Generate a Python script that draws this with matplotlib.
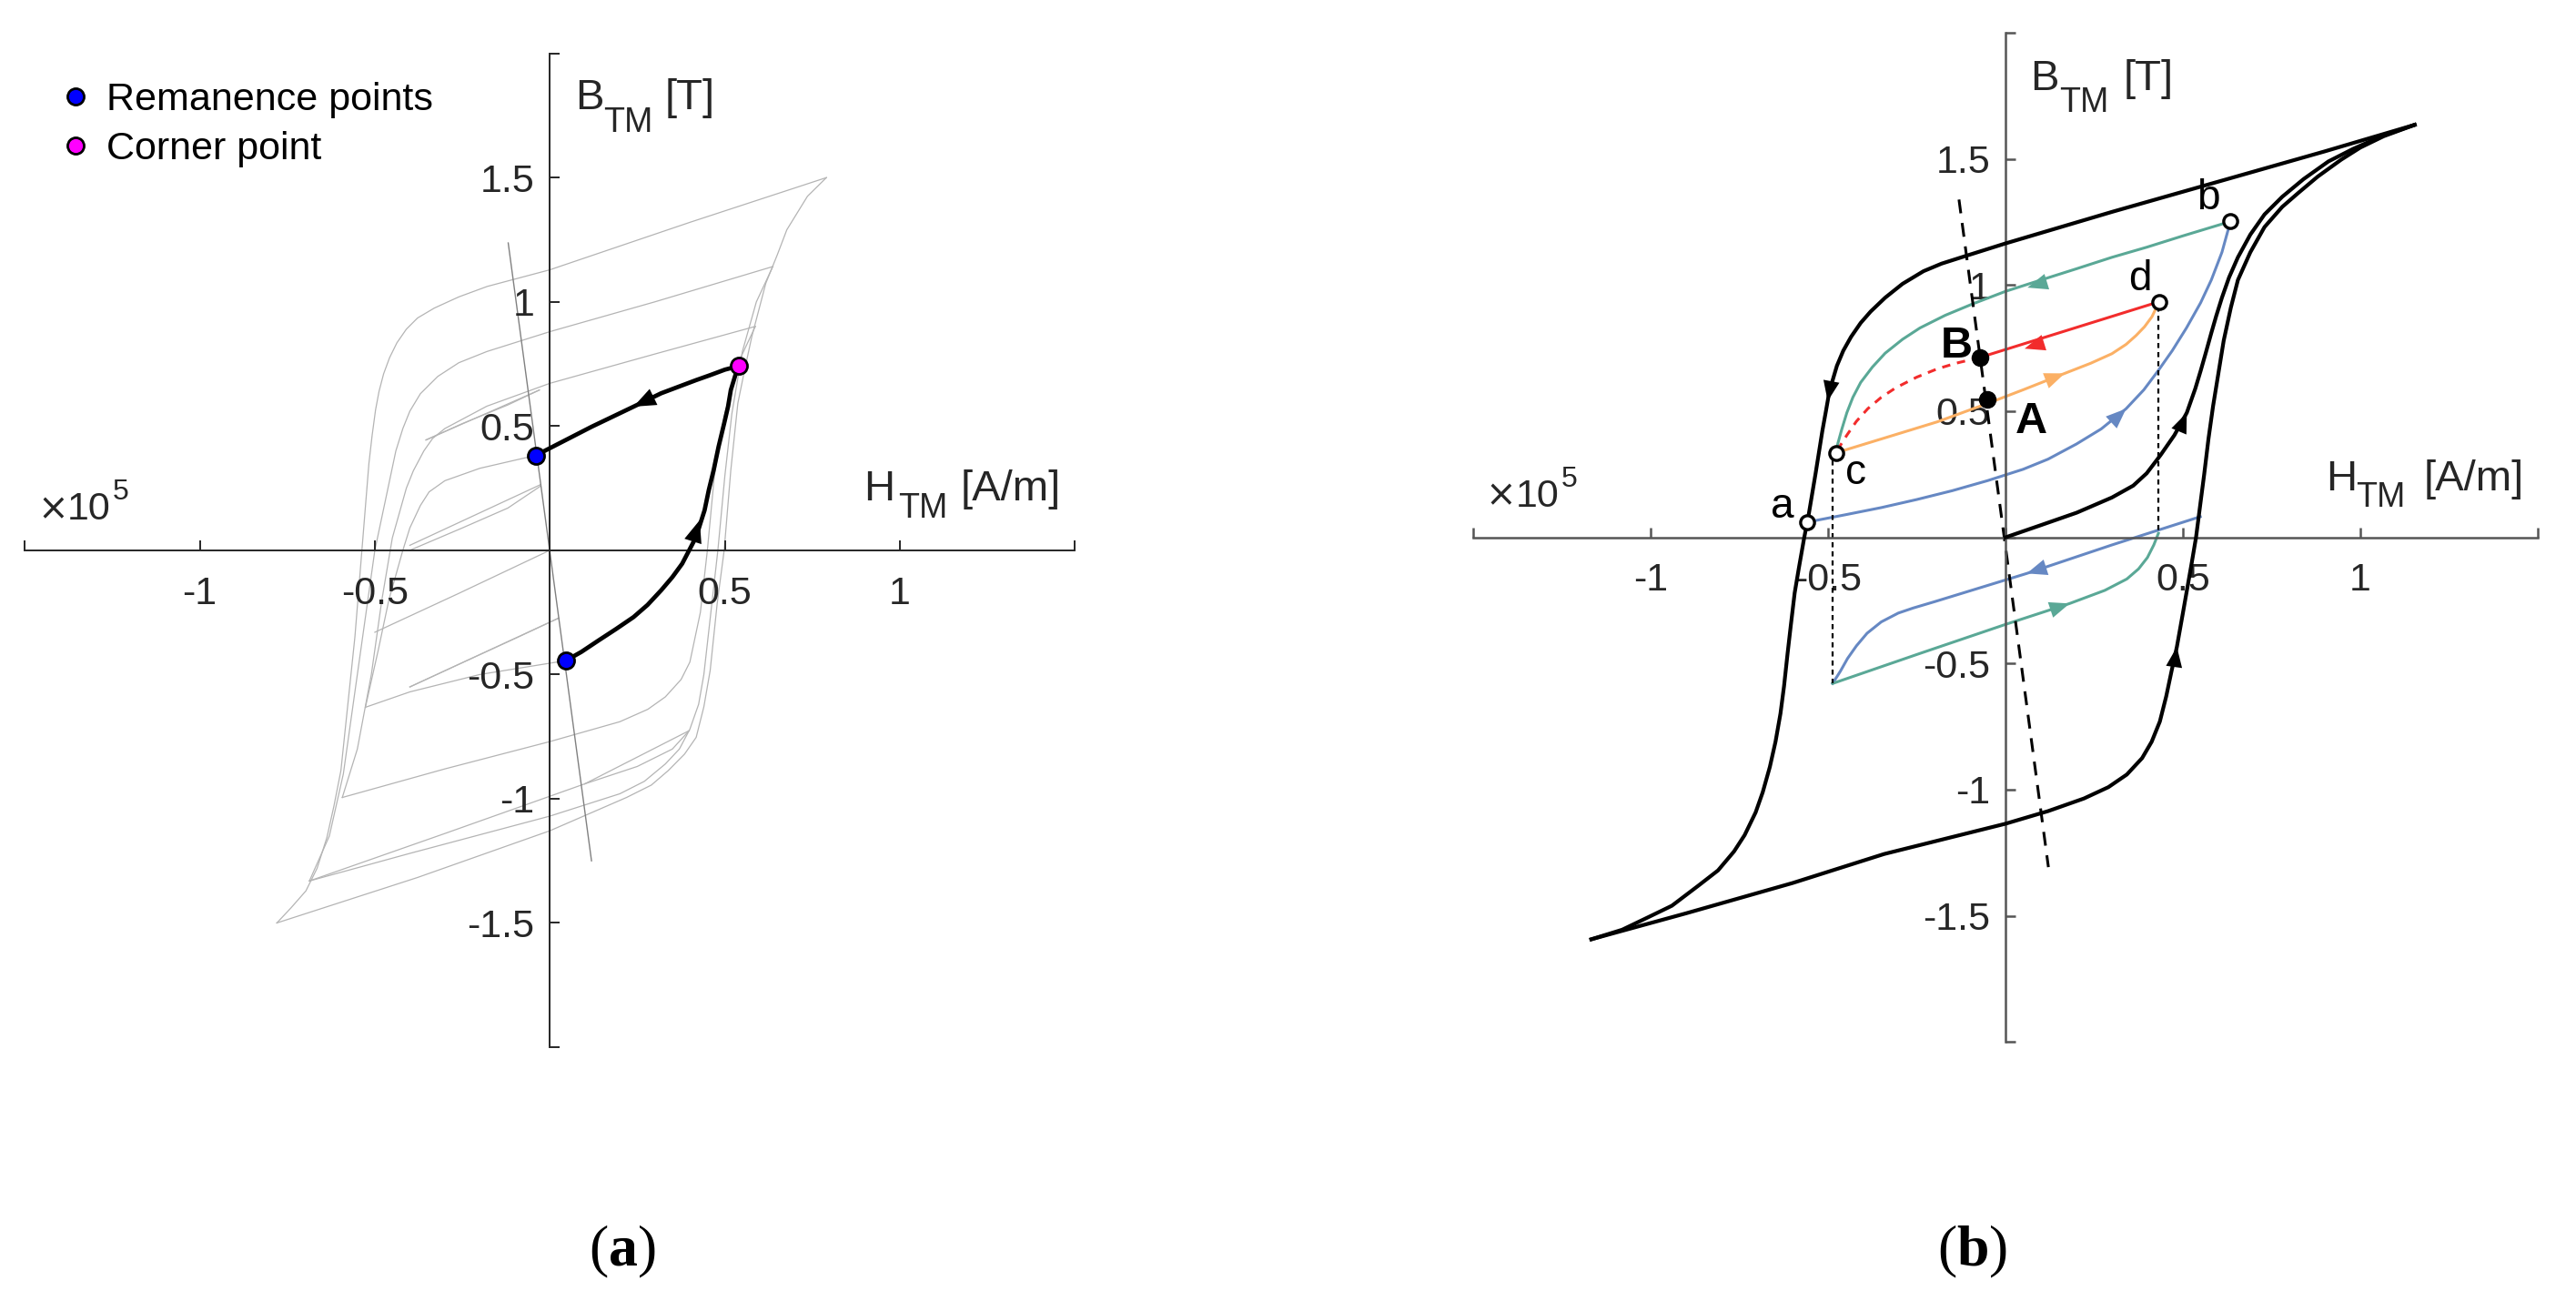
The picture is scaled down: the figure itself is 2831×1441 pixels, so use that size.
import matplotlib
matplotlib.use('Agg')
import matplotlib.pyplot as plt

plt.rcParams.update({
    'font.family': 'Liberation Sans',
    'mathtext.fontset': 'custom',
    'mathtext.rm': 'Liberation Sans',
    'mathtext.bf': 'Liberation Serif:bold',
})

# ---------------------------------------------------------------------------
# shared axis ticks
# ---------------------------------------------------------------------------
X_TICKS = [-1.5, -1, -0.5, 0, 0.5, 1, 1.5]
X_TICK_LABELS = ['', '-1', '-0.5', '', '0.5', '1', '']
Y_TICKS = [-2, -1.5, -1, -0.5, 0, 0.5, 1, 1.5, 2]
Y_TICK_LABELS = ['', '-1.5', '-1', '-0.5', '', '0.5', '1', '1.5', '']

# ---------------------------------------------------------------------------
# panel (a): gray family of loops (H in 1e5 A/m, B in T)
# ---------------------------------------------------------------------------
a_out_up_h = [0.790, 0.40, 0.00, -0.179, -0.26, -0.33, -0.378, -0.41, -0.437, -0.458, -0.475,
              -0.488, -0.498, -0.508, -0.517, -0.537, -0.557, -0.577, -0.597, -0.617, -0.637,
              -0.665, -0.697, -0.740, -0.780]
a_out_up_b = [1.500, 1.32, 1.129, 1.062, 1.02, 0.975, 0.935, 0.89, 0.835, 0.775, 0.71,
              0.64, 0.565, 0.46, 0.349, 0.0, -0.349, -0.618, -0.887, -1.03, -1.156,
              -1.28, -1.371, -1.44, -1.500]
a_out_lo_h = [-0.780, -0.378, 0.0, 0.219, 0.290, 0.338, 0.385, 0.418, 0.440, 0.458, 0.478,
              0.498, 0.517, 0.537, 0.557, 0.577, 0.617, 0.650, 0.677, 0.736, 0.790]
a_out_lo_b = [-1.500, -1.317, -1.129, -0.995, -0.945, -0.887, -0.82, -0.753, -0.63, -0.484, -0.215,
              0.0, 0.323, 0.591, 0.73, 0.860, 1.075, 1.19, 1.290, 1.425, 1.500]

a_l2_up_h = [0.637, 0.30, 0.00, -0.18, -0.26, -0.32, -0.37, -0.40, -0.42, -0.44, -0.47, -0.50,
             -0.53, -0.56, -0.59, -0.63, -0.687]
a_l2_up_b = [1.142, 1.00, 0.88, 0.80, 0.755, 0.70, 0.63, 0.56, 0.49, 0.40, 0.20, 0.00,
             -0.30, -0.60, -0.90, -1.15, -1.331]
a_l2_lo_h = [-0.687, -0.40, 0.00, 0.20, 0.27, 0.33, 0.37, 0.40, 0.425, 0.44, 0.46, 0.48,
             0.50, 0.52, 0.55, 0.59, 0.637]
a_l2_lo_b = [-1.331, -1.22, -1.07, -0.98, -0.93, -0.86, -0.80, -0.72, -0.62, -0.50, -0.25, 0.00,
             0.30, 0.55, 0.80, 1.00, 1.142]

a_l3_up_h = [0.587, 0.30, 0.00, -0.18, -0.30, -0.335, -0.36, -0.39, -0.41, -0.45, -0.48, -0.51,
             -0.55, -0.593]
a_l3_up_b = [0.901, 0.79, 0.672, 0.58, 0.49, 0.45, 0.40, 0.32, 0.25, 0.05, -0.20, -0.50,
             -0.80, -0.995]
a_l3_lo_h = [-0.593, -0.30, 0.00, 0.20, 0.28, 0.33, 0.375, 0.40, 0.43, 0.45, 0.47, 0.50,
             0.54, 0.587]
a_l3_lo_b = [-0.995, -0.88, -0.77, -0.69, -0.64, -0.59, -0.52, -0.45, -0.25, 0.00, 0.30, 0.55,
             0.76, 0.901]

a_l4_up_h = [-0.040, -0.20, -0.30, -0.345, -0.37, -0.40, -0.42, -0.46, -0.49, -0.527]
a_l4_up_b = [0.382, 0.33, 0.28, 0.235, 0.18, 0.09, 0.00, -0.20, -0.40, -0.632]
a_l4_lo_h = [-0.527, -0.40, -0.20, 0.046]
a_l4_lo_b = [-0.632, -0.57, -0.50, -0.444]

a_m1a_h = [-0.354, -0.03]
a_m1a_b = [0.444, 0.645]
a_m1b_h = [-0.354, -0.25, -0.12, -0.03]
a_m1b_b = [0.444, 0.51, 0.585, 0.645]
a_m2a_h = [-0.40, -0.027]
a_m2a_b = [0.02, 0.264]
a_m2b_h = [-0.40, -0.25, -0.12, -0.027]
a_m2b_b = [0.00, 0.09, 0.17, 0.258]
a_m3a_h = [0.10, 0.398]
a_m3a_b = [-0.94, -0.726]
a_m3b_h = [0.10, 0.25, 0.35, 0.398]
a_m3b_b = [-0.94, -0.87, -0.80, -0.726]
a_m4a_h = [-0.40, 0.025]
a_m4a_b = [-0.55, -0.273]
a_m4b_h = [-0.40, -0.20, -0.087, 0.025]
a_m4b_b = [-0.55, -0.42, -0.347, -0.273]
a_m5_h = [-0.50, -0.261, 0.0]
a_m5_b = [-0.33, -0.174, 0.0]
a_m6_h = [-0.687, -0.30, 0.10]
a_m6_b = [-1.331, -1.14, -0.94]

# straight line through the remanence points
a_rem_line_h = [-0.119, 0.119]
a_rem_line_b = [1.237, -1.250]

# black path: remanence (lower) -> corner -> remanence (upper)
a_black_up_h = [0.046, 0.090, 0.139, 0.189, 0.239, 0.279, 0.318, 0.350, 0.378, 0.398, 0.418,
                0.430, 0.442, 0.454, 0.468, 0.482, 0.498, 0.509, 0.517, 0.530, 0.541]
a_black_up_b = [-0.444, -0.409, -0.363, -0.317, -0.269, -0.220, -0.161, -0.108, -0.054, 0.0, 0.054,
                0.108, 0.161, 0.242, 0.323, 0.417, 0.511, 0.578, 0.645, 0.705, 0.742]
a_black_dn_h = [0.541, 0.500, 0.458, 0.418, 0.318, 0.239, 0.119, -0.040]
a_black_dn_b = [0.742, 0.727, 0.705, 0.685, 0.632, 0.578, 0.497, 0.382]

a_rem_h = [-0.040, 0.046]
a_rem_b = [0.382, -0.444]
a_corner_h = [0.541]
a_corner_b = [0.742]

# arrows (x, y, dx, dy)
a_arrows = [(0.239, 0.578, -0.015, -0.0103), (0.428, 0.121, 0.0045, 0.02)]

# ---------------------------------------------------------------------------
# panel (b)
# ---------------------------------------------------------------------------
b_major_dn_h = [1.153, 0.90, 0.60, 0.30, 0.0, -0.113, -0.18, -0.231, -0.29, -0.339, -0.38,
                -0.408, -0.435, -0.457, -0.475, -0.496, -0.506, -0.516, -0.535, -0.555, -0.567,
                -0.582, -0.594, -0.605, -0.614, -0.624, -0.634, -0.648, -0.664, -0.684, -0.704,
                -0.735, -0.765, -0.81, -0.865, -0.94, -1.006, -1.08, -1.167]
b_major_dn_b = [1.635, 1.53, 1.41, 1.29, 1.165, 1.115, 1.085, 1.055, 1.005, 0.950, 0.895,
                0.850, 0.795, 0.740, 0.680, 0.580, 0.50, 0.422, 0.254, 0.086, 0.0,
                -0.12, -0.22, -0.35, -0.46, -0.59, -0.698, -0.81, -0.91, -1.01, -1.09,
                -1.18, -1.245, -1.32, -1.38, -1.46, -1.505, -1.555, -1.593]
b_major_up_h = [-1.167, -0.9, -0.6, -0.342, 0.0, 0.12, 0.221, 0.29, 0.342, 0.385, 0.412,
                0.435, 0.453, 0.468, 0.483, 0.50, 0.513, 0.525, 0.537, 0.548, 0.560, 0.572,
                0.585, 0.600, 0.615, 0.635, 0.655, 0.69, 0.73, 0.78, 0.825, 0.88, 0.946,
                1.00, 1.066, 1.153]
b_major_up_b = [-1.593, -1.49, -1.37, -1.255, -1.135, -1.085, -1.035, -0.99, -0.94, -0.875, -0.81,
                -0.73, -0.63, -0.53, -0.434, -0.30, -0.196, -0.10, 0.0, 0.12, 0.25, 0.39,
                0.52, 0.65, 0.78, 0.91, 1.02, 1.13, 1.23, 1.31, 1.365, 1.43, 1.497,
                1.545, 1.590, 1.635]
b_initial_h = [0.0, 0.103, 0.201, 0.300, 0.36, 0.398, 0.437, 0.476, 0.511, 0.535, 0.550,
               0.565, 0.58, 0.594, 0.61, 0.63, 0.655, 0.69, 0.73, 0.78, 0.84, 0.91,
               0.98, 1.06, 1.153]
b_initial_b = [0.0, 0.05, 0.098, 0.158, 0.205, 0.254, 0.326, 0.405, 0.494, 0.590, 0.66,
               0.734, 0.81, 0.878, 0.95, 1.03, 1.11, 1.20, 1.28, 1.35, 1.42, 1.49,
               1.54, 1.59, 1.635]

b_blue_ab_h = [-0.560, -0.45, -0.35, -0.25, -0.15, -0.05, 0.05, 0.12, 0.20, 0.27, 0.34,
               0.39, 0.43, 0.47, 0.51, 0.55, 0.58, 0.61, 0.634]
b_blue_ab_b = [0.060, 0.09, 0.118, 0.150, 0.185, 0.225, 0.27, 0.31, 0.37, 0.43, 0.51,
               0.585, 0.66, 0.74, 0.83, 0.93, 1.02, 1.13, 1.252]
b_green_bc_h = [0.634, 0.50, 0.398, 0.30, 0.201, 0.10, 0.0, -0.093, -0.17, -0.241, -0.29,
                -0.339, -0.375, -0.408, -0.43, -0.447, -0.462, -0.472, -0.478]
b_green_bc_b = [1.252, 1.195, 1.150, 1.110, 1.065, 1.020, 0.975, 0.925, 0.88, 0.830, 0.785,
                0.730, 0.675, 0.614, 0.555, 0.494, 0.425, 0.374, 0.335]
b_orange_cd_h = [-0.478, -0.35, -0.192, -0.052, 0.05, 0.167, 0.24, 0.300, 0.34, 0.368, 0.392,
                 0.413, 0.433]
b_orange_cd_b = [0.335, 0.39, 0.458, 0.530, 0.585, 0.650, 0.69, 0.728, 0.765, 0.800, 0.835,
                 0.875, 0.934]
b_red_dB_h = [0.433, -0.072]
b_red_dB_b = [0.934, 0.713]
b_red_dash_h = [-0.072, -0.14, -0.192, -0.25, -0.309, -0.35, -0.388, -0.42, -0.447, -0.465, -0.478]
b_red_dash_b = [0.713, 0.69, 0.668, 0.635, 0.593, 0.555, 0.510, 0.46, 0.405, 0.365, 0.335]

b_blue_lo_h = [0.549, 0.30, 0.06, -0.20, -0.26, -0.302, -0.35, -0.39, -0.42, -0.445, -0.465, -0.487]
b_blue_lo_b = [0.082, -0.03, -0.143, -0.255, -0.28, -0.30, -0.335, -0.38, -0.43, -0.48, -0.53, -0.579]
b_green_lo_h = [-0.487, -0.241, 0.0, 0.181, 0.28, 0.342, 0.375, 0.40, 0.418, 0.431]
b_green_lo_b = [-0.579, -0.460, -0.345, -0.262, -0.21, -0.165, -0.125, -0.08, -0.03, 0.016]

b_vline_c_h = [-0.487, -0.487]
b_vline_c_b = [0.307, -0.579]
b_vline_d_h = [0.431, 0.431]
b_vline_d_b = [0.915, 0.016]
b_rem_line_h = [-0.131, 0.121]
b_rem_line_b = [1.339, -1.307]

b_open_names = ['a', 'b', 'c', 'd']
b_open_h = [-0.560, 0.634, -0.478, 0.433]
b_open_b = [0.060, 1.252, 0.335, 0.934]
b_open_label_h = [-0.629, 0.570, -0.422, 0.378]
b_open_label_b = [0.122, 1.345, 0.254, 1.022]
b_solid_names = ['B', 'A']
b_solid_h = [-0.072, -0.052]
b_solid_b = [0.713, 0.548]
b_solid_label_h = [-0.138, 0.072]
b_solid_label_b = [0.758, 0.458]

BLUE = '#6688c3'
GREEN = '#5aa896'
ORANGE = '#fbb065'
RED = '#f22c2c'

b_arrows = [
    (-0.501, 0.540, -0.004, -0.03, 'black'),
    (0.511, 0.494, 0.006, 0.02, 'black'),
    (0.483, -0.434, 0.003, 0.03, 'black'),
    (0.34, 0.51, 0.01, 0.013, BLUE),
    (0.062, 0.990, -0.02, -0.0086, GREEN),
    (0.054, 0.748, -0.02, -0.00875, RED),
    (0.167, 0.650, 0.02, 0.011, ORANGE),
    (0.06, -0.143, -0.02, -0.009, BLUE),
    (0.181, -0.262, 0.02, 0.0094, GREEN),
]


def origin_axes(ax, color, lw):
    ax.set_xlim(-1.5, 1.5)
    ax.set_ylim(-2, 2)
    ax.patch.set_visible(False)
    for s in ['top', 'right']:
        ax.spines[s].set_visible(False)
    for s in ['left', 'bottom']:
        ax.spines[s].set_position('zero')
        ax.spines[s].set_color(color)
        ax.spines[s].set_linewidth(lw)
    ax.set_xticks(X_TICKS)
    ax.set_xticklabels(X_TICK_LABELS)
    ax.set_yticks(Y_TICKS)
    ax.set_yticklabels(Y_TICK_LABELS)
    ax.tick_params(axis='x', direction='in', length=8, width=lw, color=color,
                   pad=20, labelsize=31, labelcolor='#262626')
    ax.tick_params(axis='y', direction='in', length=8, width=lw, color=color,
                   pad=12, labelsize=31, labelcolor='#262626')


def axis_label(ax, main, sub, rest, xm, ym, xs, ys, xr):
    kw = dict(transform=ax.transAxes, va='baseline', ha='left', color='#262626')
    ax.text(xm, ym, main, fontsize=34, **kw)
    ax.text(xs, ys, sub, fontsize=27, **kw)
    ax.text(xr, ym, rest, fontsize=34, **kw)


def exponent_label(ax, xt, xd, y, xs, ys):
    kw = dict(transform=ax.transAxes, va='baseline', ha='left', color='#262626')
    ax.text(xt, y, '\u00d7', fontsize=29, family='DejaVu Sans', **kw)
    ax.text(xd, y, '10', fontsize=31, **kw)
    ax.text(xs, ys, '5', fontsize=23, **kw)


def arrow_head(ax, x, y, dx, dy, color, size=18):
    ax.annotate('', xy=(x, y), xytext=(x - dx, y - dy),
                arrowprops=dict(arrowstyle='-|>,head_length=0.8,head_width=0.32',
                                color=color, lw=0, shrinkA=0, shrinkB=0,
                                mutation_scale=size), zorder=5)


fig = plt.figure(figsize=(28.31, 14.41), dpi=100)
ax1 = fig.add_axes([0.00964, 0.20125, 0.40763, 0.75802])
ax2 = fig.add_axes([0.57188, 0.20520, 0.41328, 0.76981])

# ----------------------------- panel (a) -----------------------------------
origin_axes(ax1, '#262626', 1.4)
gray = '#b4b4b4'
gray_curves = [
    (a_out_up_h, a_out_up_b), (a_out_lo_h, a_out_lo_b),
    (a_l2_up_h, a_l2_up_b), (a_l2_lo_h, a_l2_lo_b),
    (a_l3_up_h, a_l3_up_b), (a_l3_lo_h, a_l3_lo_b),
    (a_l4_up_h, a_l4_up_b), (a_l4_lo_h, a_l4_lo_b),
    (a_m1a_h, a_m1a_b), (a_m1b_h, a_m1b_b), (a_m2a_h, a_m2a_b), (a_m2b_h, a_m2b_b),
    (a_m3a_h, a_m3a_b), (a_m3b_h, a_m3b_b), (a_m4a_h, a_m4a_b), (a_m4b_h, a_m4b_b),
    (a_m5_h, a_m5_b), (a_m6_h, a_m6_b),
]
for h, b in gray_curves:
    ax1.plot(h, b, color=gray, lw=0.9, zorder=1)
ax1.plot(a_rem_line_h, a_rem_line_b, color='#808080', lw=1.0, zorder=1)
ax1.plot(a_black_up_h, a_black_up_b, color='black', lw=3.4, zorder=3)
ax1.plot(a_black_dn_h, a_black_dn_b, color='black', lw=3.4, zorder=3)
for x, y, dx, dy in a_arrows:
    arrow_head(ax1, x, y, dx, dy, 'black', size=22)
ax1.plot(a_rem_h, a_rem_b, 'o', ms=13, mfc='#0000ff', mec='black', mew=2, zorder=6,
         label='Remanence points')
ax1.plot(a_corner_h, a_corner_b, 'o', ms=13, mfc='#ff00ff', mec='black', mew=2, zorder=6,
         label='Corner point')
ax1.legend(loc='upper left', bbox_to_anchor=(0.011, 0.999), frameon=False, fontsize=31,
           handlelength=0.6, handletextpad=0.5, labelspacing=0.33, borderpad=0.2,
           numpoints=1)

exponent_label(ax1, 0.0122, 0.0405, 0.531, 0.0838, 0.5513)
axis_label(ax1, 'B', 'TM', '[T]', 0.524, 0.9439, 0.5509, 0.9210, 0.6098)
axis_label(ax1, 'H', 'TM', '[A/m]', 0.7987, 0.5502, 0.8316, 0.5328, 0.8914)

# ----------------------------- panel (b) -----------------------------------
origin_axes(ax2, '#555555', 1.8)
ax2.plot(b_major_dn_h, b_major_dn_b, color='black', lw=3.0, zorder=3)
ax2.plot(b_major_up_h, b_major_up_b, color='black', lw=3.0, zorder=3)
ax2.plot(b_initial_h, b_initial_b, color='black', lw=3.0, zorder=3)

ax2.plot(b_blue_ab_h, b_blue_ab_b, color=BLUE, lw=2.2, zorder=2)
ax2.plot(b_green_bc_h, b_green_bc_b, color=GREEN, lw=2.2, zorder=2)
ax2.plot(b_orange_cd_h, b_orange_cd_b, color=ORANGE, lw=2.2, zorder=2)
ax2.plot(b_red_dB_h, b_red_dB_b, color=RED, lw=2.2, zorder=2)
ax2.plot(b_red_dash_h, b_red_dash_b, color=RED, lw=2.2, ls=(0, (3, 2.5)), zorder=2)
ax2.plot(b_blue_lo_h, b_blue_lo_b, color=BLUE, lw=2.2, zorder=2)
ax2.plot(b_green_lo_h, b_green_lo_b, color=GREEN, lw=2.2, zorder=2)

ax2.plot(b_vline_c_h, b_vline_c_b, color='black', lw=1.6, ls=(0, (2.5, 2)), zorder=2)
ax2.plot(b_vline_d_h, b_vline_d_b, color='black', lw=1.6, ls=(0, (2.5, 2)), zorder=2)
ax2.plot(b_rem_line_h, b_rem_line_b, color='black', lw=2.2, ls=(0, (5, 3.5)), zorder=2)

for x, y, dx, dy, c in b_arrows:
    arrow_head(ax2, x, y, dx, dy, c, size=20)

ax2.plot(b_open_h, b_open_b, 'o', ms=11, mfc='white', mec='black', mew=2.4, zorder=6)
ax2.plot(b_solid_h, b_solid_b, 'o', ms=13, mfc='black', mec='black', zorder=6)
for name, x, y in zip(b_open_names, b_open_label_h, b_open_label_b):
    ax2.text(x, y, name, fontsize=33, ha='center', va='center', zorder=7)
for name, x, y in zip(b_solid_names, b_solid_label_h, b_solid_label_b):
    ax2.text(x, y, name, fontsize=35, fontweight='bold', ha='center', va='center', zorder=7)

exponent_label(ax2, 0.0117, 0.0402, 0.5306, 0.0829, 0.5502)
axis_label(ax2, 'B', 'TM', '[T]', 0.5231, 0.9432, 0.5504, 0.9216, 0.6111)
axis_label(ax2, 'H', 'TM', '[A/m]', 0.8009, 0.5467, 0.8291, 0.5303, 0.8932)

# ----------------------------- captions ------------------------------------
fig.text(0.2416, 0.0451, r'($\mathbf{a}$)', fontsize=46, family='Liberation Serif',
         ha='center', va='center')
fig.text(0.7655, 0.0451, r'($\mathbf{b}$)', fontsize=46, family='Liberation Serif',
         ha='center', va='center')

fig.savefig('out.png', dpi=100)
